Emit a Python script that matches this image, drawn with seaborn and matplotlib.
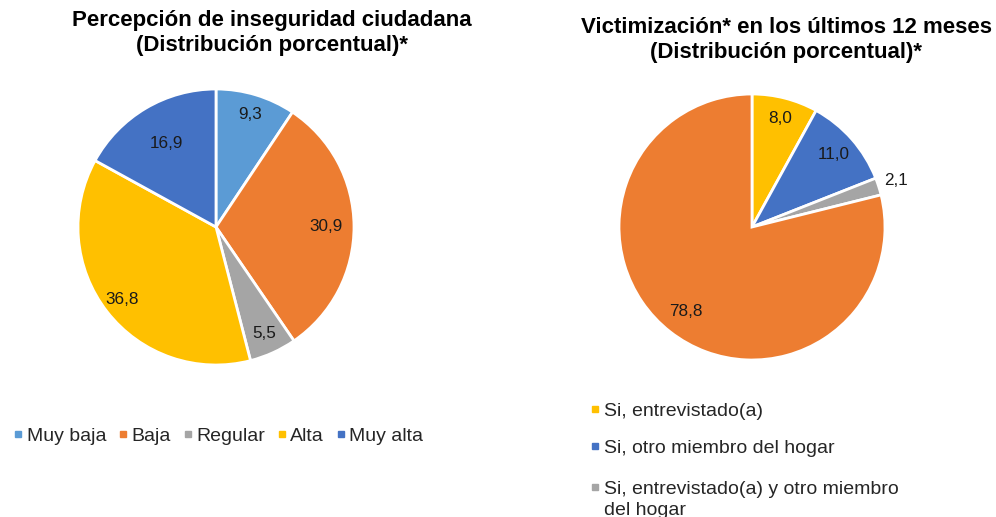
import numpy as np
import matplotlib
matplotlib.use("Agg")
import matplotlib.pyplot as plt
from matplotlib.lines import Line2D
import seaborn as sns

# ---- data ----
perc_labels = ["Muy baja", "Baja", "Regular", "Alta", "Muy alta"]
perc_values = [9.3, 30.9, 5.5, 36.8, 16.9]
perc_colors = ["#5B9BD5", "#ED7D31", "#A5A5A5", "#FFC000", "#4472C4"]

vict_labels = ["Si, entrevistado(a)", "Si, otro miembro del hogar",
               "Si, entrevistado(a) y otro miembro\ndel hogar", "No"]
vict_values = [8.0, 11.0, 2.1, 78.8]
vict_colors = ["#FFC000", "#4472C4", "#A5A5A5", "#ED7D31"]

title_left = "Percepción de inseguridad ciudadana\n(Distribución porcentual)*"
title_right = "Victimización* en los últimos 12 meses\n(Distribución porcentual)*"

sns.set_theme(style="white")
plt.rcParams["font.family"] = ["Liberation Sans", "DejaVu Sans"]

W, H = 996, 517
fig = plt.figure(figsize=(W / 100, H / 100), dpi=100)


def pie_axes(cx, cy, r):
    return fig.add_axes([(cx - r) / W, (H - cy - r) / H, 2 * r / W, 2 * r / H])


def fmt(v):
    return f"{v:.1f}".replace(".", ",")


def draw_pie(ax, values, colors, dists):
    wedges, _ = ax.pie(values, colors=colors, startangle=90, counterclock=False,
                       wedgeprops=dict(edgecolor="white", linewidth=2))
    ax.set_xlim(-1, 1)
    ax.set_ylim(-1, 1)
    ax.set_aspect("equal")
    ax.axis("off")
    for w, v, d in zip(wedges, values, dists):
        ang = np.deg2rad((w.theta1 + w.theta2) / 2)
        ax.text(d * np.cos(ang), d * np.sin(ang), fmt(v), ha="center", va="center",
                fontsize=12.3, color="#1a1a1a")
    return wedges


axL = pie_axes(216, 227, 138)
draw_pie(axL, perc_values, perc_colors, [0.85, 0.80, 0.85, 0.86, 0.70])

axR = pie_axes(752, 227, 133)
draw_pie(axR, vict_values, vict_colors, [0.84, 0.82, 1.14, 0.81])

fig.text(272 / W, 1 - 33 / H, title_left, ha="center", va="center", fontsize=16,
         fontweight="bold", color="black", linespacing=1.28)
fig.text(786 / W, 1 - 40 / H, title_right, ha="center", va="center", fontsize=16,
         fontweight="bold", color="black", linespacing=1.28)

# left legend (horizontal)
handlesL = [Line2D([], [], marker="s", linestyle="none", markersize=5,
                   markerfacecolor=c, markeredgecolor=c) for c in perc_colors]
fig.legend(handlesL, perc_labels, loc="center", bbox_to_anchor=(219 / W, 1 - 436 / H),
           ncol=5, frameon=False, fontsize=14, handlelength=0.35, handletextpad=0.25,
           columnspacing=0.7, labelcolor="#262626", borderpad=0, borderaxespad=0)

# right legend (vertical, marker aligned with first line of each label)
row_centers = [409, 446, 487]
for lab, col, yc in zip(vict_labels[:3], vict_colors[:3], row_centers):
    fig.add_artist(Line2D([595 / W], [1 - yc / H], marker="s", markersize=5,
                          linestyle="none", markerfacecolor=col, markeredgecolor=col,
                          transform=fig.transFigure))
    fig.text(604 / W, 1 - (yc - 6) / H, lab, ha="left", va="top", fontsize=14,
             color="#262626", linespacing=1.3)

fig.savefig("out.png", dpi=100, facecolor="white")
